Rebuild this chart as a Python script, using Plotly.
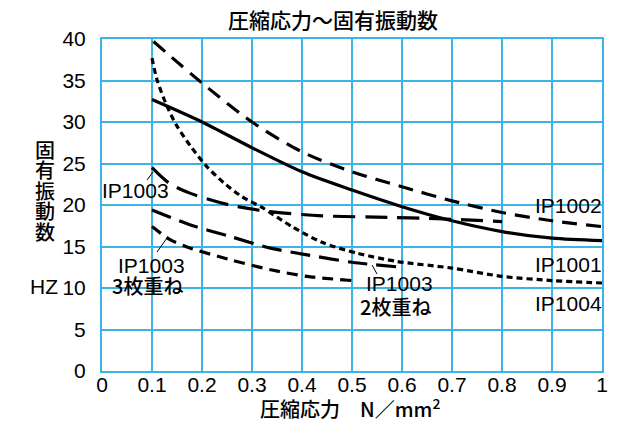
import plotly.graph_objects as go

# curves (x: compressive stress N/mm2, y: natural frequency Hz)
x_ip1002 = [0.103, 0.2, 0.3, 0.4, 0.5, 0.6, 0.7, 0.8, 0.9, 1.0]
y_ip1002 = [39.7, 34.7, 30.0, 26.4, 24.0, 22.2, 20.5, 19.1, 18.1, 17.4]

x_ip1001 = [0.1, 0.2, 0.3, 0.4, 0.5, 0.6, 0.7, 0.8, 0.9, 1.0]
y_ip1001 = [32.7, 30.0, 26.9, 24.0, 21.8, 19.8, 18.1, 16.8, 16.0, 15.7]

x_ip1004 = [0.1, 0.11, 0.13, 0.15, 0.177, 0.21, 0.245, 0.28, 0.32, 0.38, 0.44, 0.51, 0.59, 0.7, 0.8, 0.9, 1.0]
y_ip1004 = [37.7, 35.1, 31.9, 29.5, 27.1, 24.6, 22.6, 21.0, 19.7, 17.4, 15.5, 14.2, 13.2, 12.4, 11.4, 10.9, 10.6]

x_ip1003 = [0.1, 0.135, 0.177, 0.256, 0.336, 0.44, 0.58, 0.65, 0.8]
y_ip1003 = [24.5, 22.6, 21.4, 20.0, 19.2, 18.7, 18.5, 18.4, 18.0]

x_ip1003_2 = [0.1, 0.177, 0.257, 0.337, 0.41, 0.5, 0.6]
y_ip1003_2 = [19.4, 17.6, 16.2, 14.8, 14.0, 13.1, 12.5]

x_ip1003_3 = [0.1, 0.137, 0.177, 0.257, 0.337, 0.41, 0.5]
y_ip1003_3 = [17.4, 15.8, 14.8, 13.4, 12.2, 11.4, 10.9]

x_ticks = [0, 0.1, 0.2, 0.3, 0.4, 0.5, 0.6, 0.7, 0.8, 0.9, 1.0]
x_ticktext = ["0", "0.1", "0.2", "0.3", "0.4", "0.5", "0.6", "0.7", "0.8", "0.9", "1"]
y_ticks = [0, 5, 10, 15, 20, 25, 30, 35, 40]
y_title_chars = ["固", "有", "振", "動", "数"]

LATIN = "Liberation Sans, Arial, Noto Sans CJK JP"
CJK = "Noto Sans CJK JP, Liberation Sans"
GRID = "#3ab4e6"

# the page has an 8px body margin, so the figure starts at (8, 8)
OFF = 8
W, H = 634 - OFF, 424 - OFF
# plot area in page pixels
L, R, T, B = 102, 602, 39, 371


def px(x):
    return (x - L) / (R - L)


def py(y):
    return (B - y) / (B - T)


fig = go.Figure()

series = [
    (x_ip1002, y_ip1002, "15px,9px"),
    (x_ip1001, y_ip1001, "solid"),
    (x_ip1004, y_ip1004, "6px,4px"),
    (x_ip1003, y_ip1003, "22px,10px"),
    (x_ip1003_2, y_ip1003_2, "20px,9px"),
    (x_ip1003_3, y_ip1003_3, "11px,7px"),
]
for xs, ys, dash in series:
    fig.add_trace(go.Scatter(
        x=xs, y=ys, mode="lines",
        line=dict(color="black", width=3.2, dash=dash, shape="spline", smoothing=0.8),
        showlegend=False, hoverinfo="skip",
    ))

fig.update_xaxes(
    range=[0, 1], tickvals=x_ticks, ticktext=x_ticktext,
    showgrid=True, gridcolor=GRID, gridwidth=1.5,
    showline=True, mirror=True, linecolor=GRID, linewidth=2,
    zeroline=False, ticks="", ticklabelstandoff=-6, automargin=False,
    tickfont=dict(family=LATIN, size=21, color="black"),
)
fig.update_yaxes(
    range=[0, 40], tickvals=y_ticks,
    showgrid=True, gridcolor=GRID, gridwidth=1.5,
    showline=True, mirror=True, linecolor=GRID, linewidth=2,
    zeroline=False, ticks="", ticklabelstandoff=10, automargin=False,
    tickfont=dict(family=LATIN, size=21, color="black"),
)


def label(text, x, y, size=21, family=LATIN, xanchor="center", weight=None):
    font = dict(family=family, size=size, color="black")
    if weight:
        font["weight"] = weight
    fig.add_annotation(
        text=text, x=px(x), y=py(y), xref="paper", yref="paper",
        xanchor=xanchor, yanchor="middle", showarrow=False, font=font,
    )


label("圧縮応力～固有振動数", 333, 19, size=21, family=CJK, weight=500)
label("圧縮応力　N／mm<sup>2</sup>", 350, 408, size=20, family=CJK, weight=500)
# vertical y-axis title, one character per line, ~20.5px apart
for i, ch in enumerate(y_title_chars):
    label(ch, 45, 149 + 20.5 * i, size=20, family=CJK, weight=500)
label("HZ", 44, 286)

label("IP1002", 604, 205, xanchor="right")
label("IP1001", 604, 264, xanchor="right")
label("IP1004", 604, 303, xanchor="right")
label("IP1003", 135, 190)
label("IP1003", 151, 265)
label("3枚重ね", 147, 285, size=20, family=CJK, weight=500)
label("IP1003", 399, 283)
label("2枚重ね", 395, 306, size=20, family=CJK, weight=500)

# leader lines from labels to curves
leaders = [
    (147, 180, 153, 172),
    (157, 252, 167, 238),
    (372, 265, 377, 274),
]
for x0, y0, x1, y1 in leaders:
    fig.add_shape(type="line", xref="paper", yref="paper",
                  x0=px(x0), y0=py(y0), x1=px(x1), y1=py(y1),
                  line=dict(color="black", width=1))

fig.update_layout(
    width=W, height=H,
    margin=dict(l=L - OFF, r=W - (R - OFF), t=T - OFF, b=H - (B - OFF), pad=0),
    plot_bgcolor="white", paper_bgcolor="white",
)

fig.write_html("out.html")
